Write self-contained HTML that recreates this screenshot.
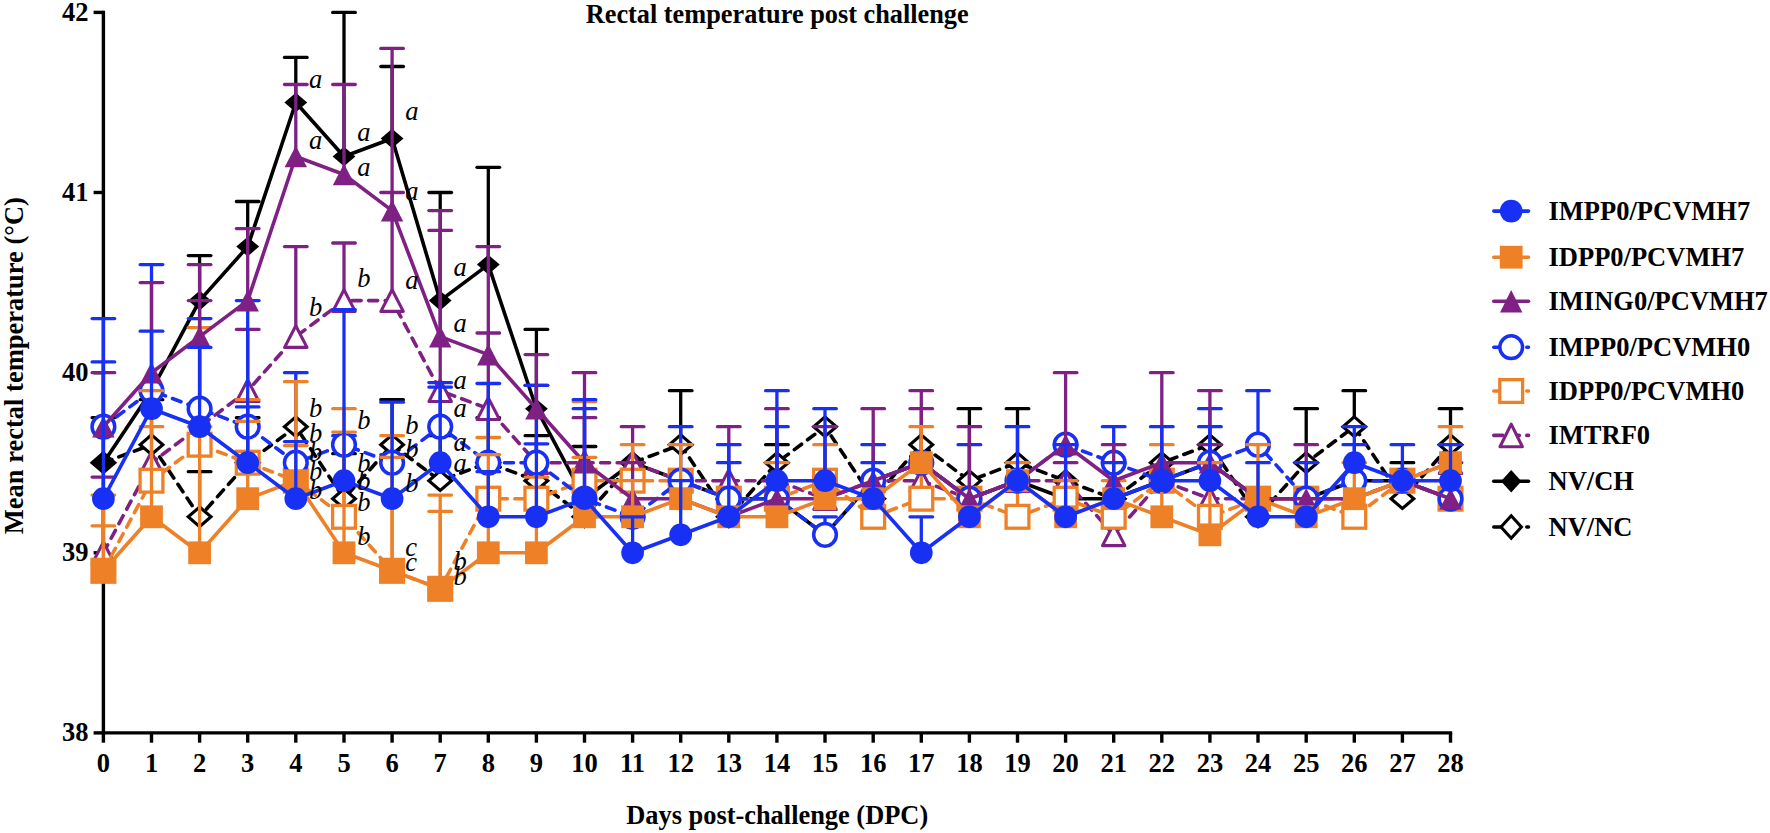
<!DOCTYPE html><html><head><meta charset="utf-8"><title>Rectal temperature post challenge</title>
<style>html,body{margin:0;padding:0;background:#fff}svg{display:block}text{font-family:"Liberation Serif","Times New Roman",serif}.b{font-weight:bold;font-size:26.5px}.i{font-style:italic;font-size:26.5px}</style></head><body>
<svg width="1770" height="833" viewBox="0 0 1770 833">
<rect width="1770" height="833" fill="#fff"/>
<g stroke="#000" stroke-width="3.4" fill="none">
<path d="M103.4 10.7V734.6"/>
<path d="M101.7 732.9H1452.2"/>
<path d="M93.6 732.9H103.4"/>
<path d="M93.6 552.8H103.4"/>
<path d="M93.6 372.7H103.4"/>
<path d="M93.6 192.5H103.4"/>
<path d="M93.6 12.4H103.4"/>
<path d="M103.4 732.9V742.7"/>
<path d="M151.5 732.9V742.7"/>
<path d="M199.6 732.9V742.7"/>
<path d="M247.7 732.9V742.7"/>
<path d="M295.8 732.9V742.7"/>
<path d="M344.0 732.9V742.7"/>
<path d="M392.1 732.9V742.7"/>
<path d="M440.2 732.9V742.7"/>
<path d="M488.3 732.9V742.7"/>
<path d="M536.4 732.9V742.7"/>
<path d="M584.5 732.9V742.7"/>
<path d="M632.6 732.9V742.7"/>
<path d="M680.7 732.9V742.7"/>
<path d="M728.8 732.9V742.7"/>
<path d="M776.9 732.9V742.7"/>
<path d="M825.0 732.9V742.7"/>
<path d="M873.2 732.9V742.7"/>
<path d="M921.3 732.9V742.7"/>
<path d="M969.4 732.9V742.7"/>
<path d="M1017.5 732.9V742.7"/>
<path d="M1065.6 732.9V742.7"/>
<path d="M1113.7 732.9V742.7"/>
<path d="M1161.8 732.9V742.7"/>
<path d="M1209.9 732.9V742.7"/>
<path d="M1258.0 732.9V742.7"/>
<path d="M1306.2 732.9V742.7"/>
<path d="M1354.3 732.9V742.7"/>
<path d="M1402.4 732.9V742.7"/>
<path d="M1450.5 732.9V742.7"/>
</g>
<g><g><path d="M151.5 444.7V399.7" stroke="#000000" stroke-width="3.3" fill="none"/><path d="M140.2 399.7H162.8" stroke="#000000" stroke-width="3.3" stroke-linecap="round" fill="none"/><path d="M199.6 516.8V471.7" stroke="#000000" stroke-width="3.3" fill="none"/><path d="M188.3 471.7H210.9" stroke="#000000" stroke-width="3.3" stroke-linecap="round" fill="none"/><path d="M247.7 462.7V417.7" stroke="#000000" stroke-width="3.3" fill="none"/><path d="M236.4 417.7H259.0" stroke="#000000" stroke-width="3.3" stroke-linecap="round" fill="none"/><path d="M344.0 498.7V453.7" stroke="#000000" stroke-width="3.3" fill="none"/><path d="M332.7 453.7H355.3" stroke="#000000" stroke-width="3.3" stroke-linecap="round" fill="none"/><path d="M392.1 444.7V399.7" stroke="#000000" stroke-width="3.3" fill="none"/><path d="M380.8 399.7H403.4" stroke="#000000" stroke-width="3.3" stroke-linecap="round" fill="none"/><path d="M440.2 480.7V435.7" stroke="#000000" stroke-width="3.3" fill="none"/><path d="M428.9 435.7H451.5" stroke="#000000" stroke-width="3.3" stroke-linecap="round" fill="none"/><path d="M488.3 462.7V417.7" stroke="#000000" stroke-width="3.3" fill="none"/><path d="M477.0 417.7H499.6" stroke="#000000" stroke-width="3.3" stroke-linecap="round" fill="none"/><path d="M536.4 480.7V435.7" stroke="#000000" stroke-width="3.3" fill="none"/><path d="M525.1 435.7H547.7" stroke="#000000" stroke-width="3.3" stroke-linecap="round" fill="none"/><path d="M584.5 516.8V446.5" stroke="#000000" stroke-width="3.3" fill="none"/><path d="M573.2 446.5H595.8" stroke="#000000" stroke-width="3.3" stroke-linecap="round" fill="none"/><path d="M680.7 444.7V390.7" stroke="#000000" stroke-width="3.3" fill="none"/><path d="M669.4 390.7H692.0" stroke="#000000" stroke-width="3.3" stroke-linecap="round" fill="none"/><path d="M776.9 462.7V444.7" stroke="#000000" stroke-width="3.3" fill="none"/><path d="M765.6 444.7H788.2" stroke="#000000" stroke-width="3.3" stroke-linecap="round" fill="none"/><path d="M969.4 480.7V408.7" stroke="#000000" stroke-width="3.3" fill="none"/><path d="M958.1 408.7H980.7" stroke="#000000" stroke-width="3.3" stroke-linecap="round" fill="none"/><path d="M1017.5 462.7V408.7" stroke="#000000" stroke-width="3.3" fill="none"/><path d="M1006.2 408.7H1028.8" stroke="#000000" stroke-width="3.3" stroke-linecap="round" fill="none"/><path d="M1306.2 462.7V408.7" stroke="#000000" stroke-width="3.3" fill="none"/><path d="M1294.9 408.7H1317.5" stroke="#000000" stroke-width="3.3" stroke-linecap="round" fill="none"/><path d="M1354.3 426.7V390.7" stroke="#000000" stroke-width="3.3" fill="none"/><path d="M1343.0 390.7H1365.6" stroke="#000000" stroke-width="3.3" stroke-linecap="round" fill="none"/><path d="M1402.4 498.7V462.7" stroke="#000000" stroke-width="3.3" fill="none"/><path d="M1391.1 462.7H1413.7" stroke="#000000" stroke-width="3.3" stroke-linecap="round" fill="none"/><path d="M1450.5 444.7V408.7" stroke="#000000" stroke-width="3.3" fill="none"/><path d="M1439.2 408.7H1461.8" stroke="#000000" stroke-width="3.3" stroke-linecap="round" fill="none"/><polyline points="103.4,462.7 151.5,444.7 199.6,516.8 247.7,462.7 295.8,426.7 344.0,498.7 392.1,444.7 440.2,480.7 488.3,462.7 536.4,480.7 584.5,516.8 632.6,462.7 680.7,444.7 728.8,516.8 776.9,462.7 825.0,426.7 873.2,498.7 921.3,444.7 969.4,480.7 1017.5,462.7 1065.6,480.7 1113.7,498.7 1161.8,462.7 1209.9,444.7 1258.0,516.8 1306.2,462.7 1354.3,426.7 1402.4,498.7 1450.5,444.7" fill="none" stroke="#000000" stroke-width="3.6" stroke-linejoin="round" stroke-dasharray="9 7.5" stroke-linecap="round"/><path d="M1493.8 527.0H1528.5" stroke="#000000" stroke-width="3.6" stroke-linecap="round" fill="none" stroke-dasharray="9 7.5"/></g><path d="M103.4 452.9L114.8 462.7L103.4 472.5L92.0 462.7Z" fill="#fff" stroke="#000000" stroke-width="3.1"/><path d="M151.5 434.9L162.9 444.7L151.5 454.5L140.1 444.7Z" fill="#fff" stroke="#000000" stroke-width="3.1"/><path d="M199.6 507.0L211.0 516.8L199.6 526.6L188.2 516.8Z" fill="#fff" stroke="#000000" stroke-width="3.1"/><path d="M247.7 452.9L259.1 462.7L247.7 472.5L236.3 462.7Z" fill="#fff" stroke="#000000" stroke-width="3.1"/><path d="M295.8 416.9L307.2 426.7L295.8 436.5L284.4 426.7Z" fill="#fff" stroke="#000000" stroke-width="3.1"/><path d="M344.0 488.9L355.4 498.7L344.0 508.5L332.6 498.7Z" fill="#fff" stroke="#000000" stroke-width="3.1"/><path d="M392.1 434.9L403.5 444.7L392.1 454.5L380.7 444.7Z" fill="#fff" stroke="#000000" stroke-width="3.1"/><path d="M440.2 470.9L451.6 480.7L440.2 490.5L428.8 480.7Z" fill="#fff" stroke="#000000" stroke-width="3.1"/><path d="M488.3 452.9L499.7 462.7L488.3 472.5L476.9 462.7Z" fill="#fff" stroke="#000000" stroke-width="3.1"/><path d="M536.4 470.9L547.8 480.7L536.4 490.5L525.0 480.7Z" fill="#fff" stroke="#000000" stroke-width="3.1"/><path d="M584.5 507.0L595.9 516.8L584.5 526.6L573.1 516.8Z" fill="#fff" stroke="#000000" stroke-width="3.1"/><path d="M632.6 452.9L644.0 462.7L632.6 472.5L621.2 462.7Z" fill="#fff" stroke="#000000" stroke-width="3.1"/><path d="M680.7 434.9L692.1 444.7L680.7 454.5L669.3 444.7Z" fill="#fff" stroke="#000000" stroke-width="3.1"/><path d="M728.8 507.0L740.2 516.8L728.8 526.6L717.4 516.8Z" fill="#fff" stroke="#000000" stroke-width="3.1"/><path d="M776.9 452.9L788.3 462.7L776.9 472.5L765.5 462.7Z" fill="#fff" stroke="#000000" stroke-width="3.1"/><path d="M825.0 416.9L836.4 426.7L825.0 436.5L813.6 426.7Z" fill="#fff" stroke="#000000" stroke-width="3.1"/><path d="M873.2 488.9L884.6 498.7L873.2 508.5L861.8 498.7Z" fill="#fff" stroke="#000000" stroke-width="3.1"/><path d="M921.3 434.9L932.7 444.7L921.3 454.5L909.9 444.7Z" fill="#fff" stroke="#000000" stroke-width="3.1"/><path d="M969.4 470.9L980.8 480.7L969.4 490.5L958.0 480.7Z" fill="#fff" stroke="#000000" stroke-width="3.1"/><path d="M1017.5 452.9L1028.9 462.7L1017.5 472.5L1006.1 462.7Z" fill="#fff" stroke="#000000" stroke-width="3.1"/><path d="M1065.6 470.9L1077.0 480.7L1065.6 490.5L1054.2 480.7Z" fill="#fff" stroke="#000000" stroke-width="3.1"/><path d="M1113.7 488.9L1125.1 498.7L1113.7 508.5L1102.3 498.7Z" fill="#fff" stroke="#000000" stroke-width="3.1"/><path d="M1161.8 452.9L1173.2 462.7L1161.8 472.5L1150.4 462.7Z" fill="#fff" stroke="#000000" stroke-width="3.1"/><path d="M1209.9 434.9L1221.3 444.7L1209.9 454.5L1198.5 444.7Z" fill="#fff" stroke="#000000" stroke-width="3.1"/><path d="M1258.0 507.0L1269.4 516.8L1258.0 526.6L1246.6 516.8Z" fill="#fff" stroke="#000000" stroke-width="3.1"/><path d="M1306.2 452.9L1317.6 462.7L1306.2 472.5L1294.8 462.7Z" fill="#fff" stroke="#000000" stroke-width="3.1"/><path d="M1354.3 416.9L1365.7 426.7L1354.3 436.5L1342.9 426.7Z" fill="#fff" stroke="#000000" stroke-width="3.1"/><path d="M1402.4 488.9L1413.8 498.7L1402.4 508.5L1391.0 498.7Z" fill="#fff" stroke="#000000" stroke-width="3.1"/><path d="M1450.5 434.9L1461.9 444.7L1450.5 454.5L1439.1 444.7Z" fill="#fff" stroke="#000000" stroke-width="3.1"/><path d="M1511.2 515.7L1521.4 527.0L1511.2 538.3L1501.0 527.0Z" fill="#fff" stroke="#000000" stroke-width="3.1"/></g>
<g><g><path d="M103.4 462.7V417.7" stroke="#000000" stroke-width="3.3" fill="none"/><path d="M92.1 417.7H114.7" stroke="#000000" stroke-width="3.3" stroke-linecap="round" fill="none"/><path d="M199.6 300.6V255.6" stroke="#000000" stroke-width="3.3" fill="none"/><path d="M188.3 255.6H210.9" stroke="#000000" stroke-width="3.3" stroke-linecap="round" fill="none"/><path d="M247.7 246.6V201.5" stroke="#000000" stroke-width="3.3" fill="none"/><path d="M236.4 201.5H259.0" stroke="#000000" stroke-width="3.3" stroke-linecap="round" fill="none"/><path d="M295.8 102.5V57.4" stroke="#000000" stroke-width="3.3" fill="none"/><path d="M284.5 57.4H307.1" stroke="#000000" stroke-width="3.3" stroke-linecap="round" fill="none"/><path d="M344.0 156.5V12.4" stroke="#000000" stroke-width="3.3" fill="none"/><path d="M332.7 12.4H355.3" stroke="#000000" stroke-width="3.3" stroke-linecap="round" fill="none"/><path d="M392.1 138.5V66.5" stroke="#000000" stroke-width="3.3" fill="none"/><path d="M380.8 66.5H403.4" stroke="#000000" stroke-width="3.3" stroke-linecap="round" fill="none"/><path d="M440.2 300.6V192.5" stroke="#000000" stroke-width="3.3" fill="none"/><path d="M428.9 192.5H451.5" stroke="#000000" stroke-width="3.3" stroke-linecap="round" fill="none"/><path d="M488.3 264.6V167.3" stroke="#000000" stroke-width="3.3" fill="none"/><path d="M477.0 167.3H499.6" stroke="#000000" stroke-width="3.3" stroke-linecap="round" fill="none"/><path d="M536.4 408.7V329.4" stroke="#000000" stroke-width="3.3" fill="none"/><path d="M525.1 329.4H547.7" stroke="#000000" stroke-width="3.3" stroke-linecap="round" fill="none"/><polyline points="103.4,462.7 151.5,390.7 199.6,300.6 247.7,246.6 295.8,102.5 344.0,156.5 392.1,138.5 440.2,300.6 488.3,264.6 536.4,408.7 584.5,498.7 632.6,462.7 680.7,480.7 728.8,498.7 776.9,498.7 825.0,534.8 873.2,480.7 921.3,462.7 969.4,498.7 1017.5,480.7 1065.6,498.7 1113.7,498.7 1161.8,480.7 1209.9,462.7 1258.0,498.7 1306.2,498.7 1354.3,480.7 1402.4,480.7 1450.5,498.7" fill="none" stroke="#000000" stroke-width="3.6" stroke-linejoin="round"/><path d="M1493.8 481.2H1528.5" stroke="#000000" stroke-width="3.6" stroke-linecap="round" fill="none"/></g><path d="M103.4 452.9L114.8 462.7L103.4 472.5L92.0 462.7Z" fill="#000000"/><path d="M151.5 380.9L162.9 390.7L151.5 400.5L140.1 390.7Z" fill="#000000"/><path d="M199.6 290.8L211.0 300.6L199.6 310.4L188.2 300.6Z" fill="#000000"/><path d="M247.7 236.8L259.1 246.6L247.7 256.4L236.3 246.6Z" fill="#000000"/><path d="M295.8 92.7L307.2 102.5L295.8 112.3L284.4 102.5Z" fill="#000000"/><path d="M344.0 146.7L355.4 156.5L344.0 166.3L332.6 156.5Z" fill="#000000"/><path d="M392.1 128.7L403.5 138.5L392.1 148.3L380.7 138.5Z" fill="#000000"/><path d="M440.2 290.8L451.6 300.6L440.2 310.4L428.8 300.6Z" fill="#000000"/><path d="M488.3 254.8L499.7 264.6L488.3 274.4L476.9 264.6Z" fill="#000000"/><path d="M536.4 398.9L547.8 408.7L536.4 418.5L525.0 408.7Z" fill="#000000"/><path d="M584.5 488.9L595.9 498.7L584.5 508.5L573.1 498.7Z" fill="#000000"/><path d="M632.6 452.9L644.0 462.7L632.6 472.5L621.2 462.7Z" fill="#000000"/><path d="M680.7 470.9L692.1 480.7L680.7 490.5L669.3 480.7Z" fill="#000000"/><path d="M728.8 488.9L740.2 498.7L728.8 508.5L717.4 498.7Z" fill="#000000"/><path d="M776.9 488.9L788.3 498.7L776.9 508.5L765.5 498.7Z" fill="#000000"/><path d="M825.0 525.0L836.4 534.8L825.0 544.6L813.6 534.8Z" fill="#000000"/><path d="M873.2 470.9L884.6 480.7L873.2 490.5L861.8 480.7Z" fill="#000000"/><path d="M921.3 452.9L932.7 462.7L921.3 472.5L909.9 462.7Z" fill="#000000"/><path d="M969.4 488.9L980.8 498.7L969.4 508.5L958.0 498.7Z" fill="#000000"/><path d="M1017.5 470.9L1028.9 480.7L1017.5 490.5L1006.1 480.7Z" fill="#000000"/><path d="M1065.6 488.9L1077.0 498.7L1065.6 508.5L1054.2 498.7Z" fill="#000000"/><path d="M1113.7 488.9L1125.1 498.7L1113.7 508.5L1102.3 498.7Z" fill="#000000"/><path d="M1161.8 470.9L1173.2 480.7L1161.8 490.5L1150.4 480.7Z" fill="#000000"/><path d="M1209.9 452.9L1221.3 462.7L1209.9 472.5L1198.5 462.7Z" fill="#000000"/><path d="M1258.0 488.9L1269.4 498.7L1258.0 508.5L1246.6 498.7Z" fill="#000000"/><path d="M1306.2 488.9L1317.6 498.7L1306.2 508.5L1294.8 498.7Z" fill="#000000"/><path d="M1354.3 470.9L1365.7 480.7L1354.3 490.5L1342.9 480.7Z" fill="#000000"/><path d="M1402.4 470.9L1413.8 480.7L1402.4 490.5L1391.0 480.7Z" fill="#000000"/><path d="M1450.5 488.9L1461.9 498.7L1450.5 508.5L1439.1 498.7Z" fill="#000000"/><path d="M1511.2 469.9L1521.4 481.2L1511.2 492.5L1501.0 481.2Z" fill="#000000"/></g>
<g><g><path d="M103.4 552.8V477.1" stroke="#7f2184" stroke-width="3.3" fill="none"/><path d="M92.1 477.1H114.7" stroke="#7f2184" stroke-width="3.3" stroke-linecap="round" fill="none"/><path d="M199.6 426.7V300.6" stroke="#7f2184" stroke-width="3.3" fill="none"/><path d="M188.3 300.6H210.9" stroke="#7f2184" stroke-width="3.3" stroke-linecap="round" fill="none"/><path d="M247.7 390.7V329.4" stroke="#7f2184" stroke-width="3.3" fill="none"/><path d="M236.4 329.4H259.0" stroke="#7f2184" stroke-width="3.3" stroke-linecap="round" fill="none"/><path d="M295.8 336.6V246.6" stroke="#7f2184" stroke-width="3.3" fill="none"/><path d="M284.5 246.6H307.1" stroke="#7f2184" stroke-width="3.3" stroke-linecap="round" fill="none"/><path d="M344.0 300.6V243.0" stroke="#7f2184" stroke-width="3.3" fill="none"/><path d="M332.7 243.0H355.3" stroke="#7f2184" stroke-width="3.3" stroke-linecap="round" fill="none"/><path d="M392.1 300.6V192.5" stroke="#7f2184" stroke-width="3.3" fill="none"/><path d="M380.8 192.5H403.4" stroke="#7f2184" stroke-width="3.3" stroke-linecap="round" fill="none"/><path d="M440.2 390.7V230.4" stroke="#7f2184" stroke-width="3.3" fill="none"/><path d="M428.9 230.4H451.5" stroke="#7f2184" stroke-width="3.3" stroke-linecap="round" fill="none"/><path d="M488.3 408.7V333.0" stroke="#7f2184" stroke-width="3.3" fill="none"/><path d="M477.0 333.0H499.6" stroke="#7f2184" stroke-width="3.3" stroke-linecap="round" fill="none"/><path d="M536.4 462.7V385.3" stroke="#7f2184" stroke-width="3.3" fill="none"/><path d="M525.1 385.3H547.7" stroke="#7f2184" stroke-width="3.3" stroke-linecap="round" fill="none"/><path d="M584.5 462.7V417.7" stroke="#7f2184" stroke-width="3.3" fill="none"/><path d="M573.2 417.7H595.8" stroke="#7f2184" stroke-width="3.3" stroke-linecap="round" fill="none"/><path d="M632.6 462.7V426.7" stroke="#7f2184" stroke-width="3.3" fill="none"/><path d="M621.3 426.7H643.9" stroke="#7f2184" stroke-width="3.3" stroke-linecap="round" fill="none"/><path d="M728.8 480.7V426.7" stroke="#7f2184" stroke-width="3.3" fill="none"/><path d="M717.5 426.7H740.1" stroke="#7f2184" stroke-width="3.3" stroke-linecap="round" fill="none"/><path d="M921.3 480.7V408.7" stroke="#7f2184" stroke-width="3.3" fill="none"/><path d="M910.0 408.7H932.6" stroke="#7f2184" stroke-width="3.3" stroke-linecap="round" fill="none"/><path d="M1065.6 480.7V462.7" stroke="#7f2184" stroke-width="3.3" fill="none"/><path d="M1054.3 462.7H1076.9" stroke="#7f2184" stroke-width="3.3" stroke-linecap="round" fill="none"/><path d="M1209.9 498.7V444.7" stroke="#7f2184" stroke-width="3.3" fill="none"/><path d="M1198.6 444.7H1221.2" stroke="#7f2184" stroke-width="3.3" stroke-linecap="round" fill="none"/><path d="M1306.2 498.7V444.7" stroke="#7f2184" stroke-width="3.3" fill="none"/><path d="M1294.9 444.7H1317.5" stroke="#7f2184" stroke-width="3.3" stroke-linecap="round" fill="none"/><polyline points="103.4,552.8 151.5,462.7 199.6,426.7 247.7,390.7 295.8,336.6 344.0,300.6 392.1,300.6 440.2,390.7 488.3,408.7 536.4,462.7 584.5,462.7 632.6,462.7 680.7,480.7 728.8,480.7 776.9,480.7 825.0,498.7 873.2,480.7 921.3,480.7 969.4,498.7 1017.5,480.7 1065.6,480.7 1113.7,534.8 1161.8,480.7 1209.9,498.7 1258.0,498.7 1306.2,498.7 1354.3,498.7 1402.4,480.7 1450.5,462.7" fill="none" stroke="#7f2184" stroke-width="3.6" stroke-linejoin="round" stroke-dasharray="9 7.5" stroke-linecap="round"/><path d="M1493.8 435.4H1528.5" stroke="#7f2184" stroke-width="3.6" stroke-linecap="round" fill="none" stroke-dasharray="9 7.5"/></g><path d="M103.4 542.0L114.6 563.6L92.2 563.6Z" fill="#fff" stroke="#7f2184" stroke-width="3.1" stroke-linejoin="round"/><path d="M151.5 451.9L162.7 473.5L140.3 473.5Z" fill="#fff" stroke="#7f2184" stroke-width="3.1" stroke-linejoin="round"/><path d="M199.6 415.9L210.8 437.5L188.4 437.5Z" fill="#fff" stroke="#7f2184" stroke-width="3.1" stroke-linejoin="round"/><path d="M247.7 379.9L258.9 401.5L236.5 401.5Z" fill="#fff" stroke="#7f2184" stroke-width="3.1" stroke-linejoin="round"/><path d="M295.8 325.8L307.0 347.4L284.6 347.4Z" fill="#fff" stroke="#7f2184" stroke-width="3.1" stroke-linejoin="round"/><path d="M344.0 289.8L355.2 311.4L332.8 311.4Z" fill="#fff" stroke="#7f2184" stroke-width="3.1" stroke-linejoin="round"/><path d="M392.1 289.8L403.3 311.4L380.9 311.4Z" fill="#fff" stroke="#7f2184" stroke-width="3.1" stroke-linejoin="round"/><path d="M440.2 379.9L451.4 401.5L429.0 401.5Z" fill="#fff" stroke="#7f2184" stroke-width="3.1" stroke-linejoin="round"/><path d="M488.3 397.9L499.5 419.5L477.1 419.5Z" fill="#fff" stroke="#7f2184" stroke-width="3.1" stroke-linejoin="round"/><path d="M536.4 451.9L547.6 473.5L525.2 473.5Z" fill="#fff" stroke="#7f2184" stroke-width="3.1" stroke-linejoin="round"/><path d="M584.5 451.9L595.7 473.5L573.3 473.5Z" fill="#fff" stroke="#7f2184" stroke-width="3.1" stroke-linejoin="round"/><path d="M632.6 451.9L643.8 473.5L621.4 473.5Z" fill="#fff" stroke="#7f2184" stroke-width="3.1" stroke-linejoin="round"/><path d="M680.7 469.9L691.9 491.5L669.5 491.5Z" fill="#fff" stroke="#7f2184" stroke-width="3.1" stroke-linejoin="round"/><path d="M728.8 469.9L740.0 491.5L717.6 491.5Z" fill="#fff" stroke="#7f2184" stroke-width="3.1" stroke-linejoin="round"/><path d="M776.9 469.9L788.1 491.5L765.7 491.5Z" fill="#fff" stroke="#7f2184" stroke-width="3.1" stroke-linejoin="round"/><path d="M825.0 487.9L836.2 509.5L813.8 509.5Z" fill="#fff" stroke="#7f2184" stroke-width="3.1" stroke-linejoin="round"/><path d="M873.2 469.9L884.4 491.5L862.0 491.5Z" fill="#fff" stroke="#7f2184" stroke-width="3.1" stroke-linejoin="round"/><path d="M921.3 469.9L932.5 491.5L910.1 491.5Z" fill="#fff" stroke="#7f2184" stroke-width="3.1" stroke-linejoin="round"/><path d="M969.4 487.9L980.6 509.5L958.2 509.5Z" fill="#fff" stroke="#7f2184" stroke-width="3.1" stroke-linejoin="round"/><path d="M1017.5 469.9L1028.7 491.5L1006.3 491.5Z" fill="#fff" stroke="#7f2184" stroke-width="3.1" stroke-linejoin="round"/><path d="M1065.6 469.9L1076.8 491.5L1054.4 491.5Z" fill="#fff" stroke="#7f2184" stroke-width="3.1" stroke-linejoin="round"/><path d="M1113.7 524.0L1124.9 545.6L1102.5 545.6Z" fill="#fff" stroke="#7f2184" stroke-width="3.1" stroke-linejoin="round"/><path d="M1161.8 469.9L1173.0 491.5L1150.6 491.5Z" fill="#fff" stroke="#7f2184" stroke-width="3.1" stroke-linejoin="round"/><path d="M1209.9 487.9L1221.1 509.5L1198.7 509.5Z" fill="#fff" stroke="#7f2184" stroke-width="3.1" stroke-linejoin="round"/><path d="M1258.0 487.9L1269.2 509.5L1246.8 509.5Z" fill="#fff" stroke="#7f2184" stroke-width="3.1" stroke-linejoin="round"/><path d="M1306.2 487.9L1317.4 509.5L1295.0 509.5Z" fill="#fff" stroke="#7f2184" stroke-width="3.1" stroke-linejoin="round"/><path d="M1354.3 487.9L1365.5 509.5L1343.1 509.5Z" fill="#fff" stroke="#7f2184" stroke-width="3.1" stroke-linejoin="round"/><path d="M1402.4 469.9L1413.6 491.5L1391.2 491.5Z" fill="#fff" stroke="#7f2184" stroke-width="3.1" stroke-linejoin="round"/><path d="M1450.5 451.9L1461.7 473.5L1439.3 473.5Z" fill="#fff" stroke="#7f2184" stroke-width="3.1" stroke-linejoin="round"/><path d="M1511.2 424.1L1522.4 446.7L1500.0 446.7Z" fill="#fff" stroke="#7f2184" stroke-width="3.1" stroke-linejoin="round"/></g>
<g><g><path d="M103.4 570.8V495.1" stroke="#ee8127" stroke-width="3.3" fill="none"/><path d="M92.1 495.1H114.7" stroke="#ee8127" stroke-width="3.3" stroke-linecap="round" fill="none"/><path d="M151.5 480.7V426.7" stroke="#ee8127" stroke-width="3.3" fill="none"/><path d="M140.2 426.7H162.8" stroke="#ee8127" stroke-width="3.3" stroke-linecap="round" fill="none"/><path d="M199.6 444.7V327.6" stroke="#ee8127" stroke-width="3.3" fill="none"/><path d="M188.3 327.6H210.9" stroke="#ee8127" stroke-width="3.3" stroke-linecap="round" fill="none"/><path d="M247.7 462.7V399.7" stroke="#ee8127" stroke-width="3.3" fill="none"/><path d="M236.4 399.7H259.0" stroke="#ee8127" stroke-width="3.3" stroke-linecap="round" fill="none"/><path d="M295.8 480.7V445.6" stroke="#ee8127" stroke-width="3.3" fill="none"/><path d="M284.5 445.6H307.1" stroke="#ee8127" stroke-width="3.3" stroke-linecap="round" fill="none"/><path d="M344.0 516.8V408.7" stroke="#ee8127" stroke-width="3.3" fill="none"/><path d="M332.7 408.7H355.3" stroke="#ee8127" stroke-width="3.3" stroke-linecap="round" fill="none"/><path d="M392.1 570.8V435.7" stroke="#ee8127" stroke-width="3.3" fill="none"/><path d="M380.8 435.7H403.4" stroke="#ee8127" stroke-width="3.3" stroke-linecap="round" fill="none"/><path d="M440.2 588.8V511.4" stroke="#ee8127" stroke-width="3.3" fill="none"/><path d="M428.9 511.4H451.5" stroke="#ee8127" stroke-width="3.3" stroke-linecap="round" fill="none"/><path d="M488.3 498.7V437.5" stroke="#ee8127" stroke-width="3.3" fill="none"/><path d="M477.0 437.5H499.6" stroke="#ee8127" stroke-width="3.3" stroke-linecap="round" fill="none"/><path d="M584.5 480.7V401.5" stroke="#ee8127" stroke-width="3.3" fill="none"/><path d="M573.2 401.5H595.8" stroke="#ee8127" stroke-width="3.3" stroke-linecap="round" fill="none"/><path d="M632.6 480.7V444.7" stroke="#ee8127" stroke-width="3.3" fill="none"/><path d="M621.3 444.7H643.9" stroke="#ee8127" stroke-width="3.3" stroke-linecap="round" fill="none"/><path d="M776.9 498.7V462.7" stroke="#ee8127" stroke-width="3.3" fill="none"/><path d="M765.6 462.7H788.2" stroke="#ee8127" stroke-width="3.3" stroke-linecap="round" fill="none"/><path d="M825.0 480.7V444.7" stroke="#ee8127" stroke-width="3.3" fill="none"/><path d="M813.8 444.7H836.3" stroke="#ee8127" stroke-width="3.3" stroke-linecap="round" fill="none"/><path d="M921.3 498.7V462.7" stroke="#ee8127" stroke-width="3.3" fill="none"/><path d="M910.0 462.7H932.6" stroke="#ee8127" stroke-width="3.3" stroke-linecap="round" fill="none"/><path d="M1017.5 516.8V462.7" stroke="#ee8127" stroke-width="3.3" fill="none"/><path d="M1006.2 462.7H1028.8" stroke="#ee8127" stroke-width="3.3" stroke-linecap="round" fill="none"/><path d="M1113.7 516.8V480.7" stroke="#ee8127" stroke-width="3.3" fill="none"/><path d="M1102.4 480.7H1125.0" stroke="#ee8127" stroke-width="3.3" stroke-linecap="round" fill="none"/><path d="M1161.8 480.7V444.7" stroke="#ee8127" stroke-width="3.3" fill="none"/><path d="M1150.5 444.7H1173.1" stroke="#ee8127" stroke-width="3.3" stroke-linecap="round" fill="none"/><polyline points="103.4,570.8 151.5,480.7 199.6,444.7 247.7,462.7 295.8,480.7 344.0,516.8 392.1,570.8 440.2,588.8 488.3,498.7 536.4,498.7 584.5,480.7 632.6,480.7 680.7,480.7 728.8,498.7 776.9,498.7 825.0,480.7 873.2,516.8 921.3,498.7 969.4,498.7 1017.5,516.8 1065.6,498.7 1113.7,516.8 1161.8,480.7 1209.9,516.8 1258.0,498.7 1306.2,498.7 1354.3,516.8 1402.4,480.7 1450.5,498.7" fill="none" stroke="#ee8127" stroke-width="3.6" stroke-linejoin="round" stroke-dasharray="9 7.5" stroke-linecap="round"/><path d="M1493.8 391.0H1528.5" stroke="#ee8127" stroke-width="3.6" stroke-linecap="round" fill="none" stroke-dasharray="9 7.5"/></g><rect x="92.0" y="559.4" width="22.8" height="22.8" fill="#fff" stroke="#ee8127" stroke-width="3.3"/><rect x="140.1" y="469.3" width="22.8" height="22.8" fill="#fff" stroke="#ee8127" stroke-width="3.3"/><rect x="188.2" y="433.3" width="22.8" height="22.8" fill="#fff" stroke="#ee8127" stroke-width="3.3"/><rect x="236.3" y="451.3" width="22.8" height="22.8" fill="#fff" stroke="#ee8127" stroke-width="3.3"/><rect x="284.4" y="469.3" width="22.8" height="22.8" fill="#fff" stroke="#ee8127" stroke-width="3.3"/><rect x="332.6" y="505.4" width="22.8" height="22.8" fill="#fff" stroke="#ee8127" stroke-width="3.3"/><rect x="380.7" y="559.4" width="22.8" height="22.8" fill="#fff" stroke="#ee8127" stroke-width="3.3"/><rect x="428.8" y="577.4" width="22.8" height="22.8" fill="#fff" stroke="#ee8127" stroke-width="3.3"/><rect x="476.9" y="487.3" width="22.8" height="22.8" fill="#fff" stroke="#ee8127" stroke-width="3.3"/><rect x="525.0" y="487.3" width="22.8" height="22.8" fill="#fff" stroke="#ee8127" stroke-width="3.3"/><rect x="573.1" y="469.3" width="22.8" height="22.8" fill="#fff" stroke="#ee8127" stroke-width="3.3"/><rect x="621.2" y="469.3" width="22.8" height="22.8" fill="#fff" stroke="#ee8127" stroke-width="3.3"/><rect x="669.3" y="469.3" width="22.8" height="22.8" fill="#fff" stroke="#ee8127" stroke-width="3.3"/><rect x="717.4" y="487.3" width="22.8" height="22.8" fill="#fff" stroke="#ee8127" stroke-width="3.3"/><rect x="765.5" y="487.3" width="22.8" height="22.8" fill="#fff" stroke="#ee8127" stroke-width="3.3"/><rect x="813.6" y="469.3" width="22.8" height="22.8" fill="#fff" stroke="#ee8127" stroke-width="3.3"/><rect x="861.8" y="505.4" width="22.8" height="22.8" fill="#fff" stroke="#ee8127" stroke-width="3.3"/><rect x="909.9" y="487.3" width="22.8" height="22.8" fill="#fff" stroke="#ee8127" stroke-width="3.3"/><rect x="958.0" y="487.3" width="22.8" height="22.8" fill="#fff" stroke="#ee8127" stroke-width="3.3"/><rect x="1006.1" y="505.4" width="22.8" height="22.8" fill="#fff" stroke="#ee8127" stroke-width="3.3"/><rect x="1054.2" y="487.3" width="22.8" height="22.8" fill="#fff" stroke="#ee8127" stroke-width="3.3"/><rect x="1102.3" y="505.4" width="22.8" height="22.8" fill="#fff" stroke="#ee8127" stroke-width="3.3"/><rect x="1150.4" y="469.3" width="22.8" height="22.8" fill="#fff" stroke="#ee8127" stroke-width="3.3"/><rect x="1198.5" y="505.4" width="22.8" height="22.8" fill="#fff" stroke="#ee8127" stroke-width="3.3"/><rect x="1246.6" y="487.3" width="22.8" height="22.8" fill="#fff" stroke="#ee8127" stroke-width="3.3"/><rect x="1294.8" y="487.3" width="22.8" height="22.8" fill="#fff" stroke="#ee8127" stroke-width="3.3"/><rect x="1342.9" y="505.4" width="22.8" height="22.8" fill="#fff" stroke="#ee8127" stroke-width="3.3"/><rect x="1391.0" y="469.3" width="22.8" height="22.8" fill="#fff" stroke="#ee8127" stroke-width="3.3"/><rect x="1439.1" y="487.3" width="22.8" height="22.8" fill="#fff" stroke="#ee8127" stroke-width="3.3"/><rect x="1499.8" y="379.6" width="22.8" height="22.8" fill="#fff" stroke="#ee8127" stroke-width="3.3"/></g>
<g><g><path d="M103.4 426.7V318.6" stroke="#1730f3" stroke-width="3.3" fill="none"/><path d="M92.1 318.6H114.7" stroke="#1730f3" stroke-width="3.3" stroke-linecap="round" fill="none"/><path d="M151.5 390.7V264.6" stroke="#1730f3" stroke-width="3.3" fill="none"/><path d="M140.2 264.6H162.8" stroke="#1730f3" stroke-width="3.3" stroke-linecap="round" fill="none"/><path d="M199.6 408.7V318.6" stroke="#1730f3" stroke-width="3.3" fill="none"/><path d="M188.3 318.6H210.9" stroke="#1730f3" stroke-width="3.3" stroke-linecap="round" fill="none"/><path d="M247.7 426.7V300.6" stroke="#1730f3" stroke-width="3.3" fill="none"/><path d="M236.4 300.6H259.0" stroke="#1730f3" stroke-width="3.3" stroke-linecap="round" fill="none"/><path d="M295.8 462.7V372.7" stroke="#1730f3" stroke-width="3.3" fill="none"/><path d="M284.5 372.7H307.1" stroke="#1730f3" stroke-width="3.3" stroke-linecap="round" fill="none"/><path d="M344.0 444.7V435.7" stroke="#1730f3" stroke-width="3.3" fill="none"/><path d="M332.7 435.7H355.3" stroke="#1730f3" stroke-width="3.3" stroke-linecap="round" fill="none"/><path d="M392.1 462.7V454.6" stroke="#1730f3" stroke-width="3.3" fill="none"/><path d="M380.8 454.6H403.4" stroke="#1730f3" stroke-width="3.3" stroke-linecap="round" fill="none"/><path d="M440.2 426.7V382.6" stroke="#1730f3" stroke-width="3.3" fill="none"/><path d="M428.9 382.6H451.5" stroke="#1730f3" stroke-width="3.3" stroke-linecap="round" fill="none"/><path d="M488.3 462.7V383.5" stroke="#1730f3" stroke-width="3.3" fill="none"/><path d="M477.0 383.5H499.6" stroke="#1730f3" stroke-width="3.3" stroke-linecap="round" fill="none"/><path d="M536.4 462.7V385.3" stroke="#1730f3" stroke-width="3.3" fill="none"/><path d="M525.1 385.3H547.7" stroke="#1730f3" stroke-width="3.3" stroke-linecap="round" fill="none"/><path d="M584.5 498.7V408.7" stroke="#1730f3" stroke-width="3.3" fill="none"/><path d="M573.2 408.7H595.8" stroke="#1730f3" stroke-width="3.3" stroke-linecap="round" fill="none"/><path d="M680.7 480.7V426.7" stroke="#1730f3" stroke-width="3.3" fill="none"/><path d="M669.4 426.7H692.0" stroke="#1730f3" stroke-width="3.3" stroke-linecap="round" fill="none"/><path d="M728.8 498.7V444.7" stroke="#1730f3" stroke-width="3.3" fill="none"/><path d="M717.5 444.7H740.1" stroke="#1730f3" stroke-width="3.3" stroke-linecap="round" fill="none"/><path d="M776.9 498.7V426.7" stroke="#1730f3" stroke-width="3.3" fill="none"/><path d="M765.6 426.7H788.2" stroke="#1730f3" stroke-width="3.3" stroke-linecap="round" fill="none"/><path d="M825.0 534.8V516.8" stroke="#1730f3" stroke-width="3.3" fill="none"/><path d="M813.8 516.8H836.3" stroke="#1730f3" stroke-width="3.3" stroke-linecap="round" fill="none"/><path d="M873.2 480.7V444.7" stroke="#1730f3" stroke-width="3.3" fill="none"/><path d="M861.9 444.7H884.5" stroke="#1730f3" stroke-width="3.3" stroke-linecap="round" fill="none"/><path d="M969.4 498.7V444.7" stroke="#1730f3" stroke-width="3.3" fill="none"/><path d="M958.1 444.7H980.7" stroke="#1730f3" stroke-width="3.3" stroke-linecap="round" fill="none"/><path d="M1113.7 462.7V426.7" stroke="#1730f3" stroke-width="3.3" fill="none"/><path d="M1102.4 426.7H1125.0" stroke="#1730f3" stroke-width="3.3" stroke-linecap="round" fill="none"/><path d="M1209.9 462.7V408.7" stroke="#1730f3" stroke-width="3.3" fill="none"/><path d="M1198.6 408.7H1221.2" stroke="#1730f3" stroke-width="3.3" stroke-linecap="round" fill="none"/><path d="M1258.0 444.7V390.7" stroke="#1730f3" stroke-width="3.3" fill="none"/><path d="M1246.7 390.7H1269.3" stroke="#1730f3" stroke-width="3.3" stroke-linecap="round" fill="none"/><path d="M1306.2 498.7V462.7" stroke="#1730f3" stroke-width="3.3" fill="none"/><path d="M1294.9 462.7H1317.5" stroke="#1730f3" stroke-width="3.3" stroke-linecap="round" fill="none"/><path d="M1354.3 480.7V444.7" stroke="#1730f3" stroke-width="3.3" fill="none"/><path d="M1343.0 444.7H1365.6" stroke="#1730f3" stroke-width="3.3" stroke-linecap="round" fill="none"/><polyline points="103.4,426.7 151.5,390.7 199.6,408.7 247.7,426.7 295.8,462.7 344.0,444.7 392.1,462.7 440.2,426.7 488.3,462.7 536.4,462.7 584.5,498.7 632.6,516.8 680.7,480.7 728.8,498.7 776.9,498.7 825.0,534.8 873.2,480.7 921.3,462.7 969.4,498.7 1017.5,480.7 1065.6,444.7 1113.7,462.7 1161.8,480.7 1209.9,462.7 1258.0,444.7 1306.2,498.7 1354.3,480.7 1402.4,480.7 1450.5,498.7" fill="none" stroke="#1730f3" stroke-width="3.6" stroke-linejoin="round" stroke-dasharray="9 7.5" stroke-linecap="round"/><path d="M1493.8 347.2H1528.5" stroke="#1730f3" stroke-width="3.6" stroke-linecap="round" fill="none" stroke-dasharray="9 7.5"/></g><circle cx="103.4" cy="426.7" r="11.35" fill="#fff" stroke="#1730f3" stroke-width="3.5"/><circle cx="151.5" cy="390.7" r="11.35" fill="#fff" stroke="#1730f3" stroke-width="3.5"/><circle cx="199.6" cy="408.7" r="11.35" fill="#fff" stroke="#1730f3" stroke-width="3.5"/><circle cx="247.7" cy="426.7" r="11.35" fill="#fff" stroke="#1730f3" stroke-width="3.5"/><circle cx="295.8" cy="462.7" r="11.35" fill="#fff" stroke="#1730f3" stroke-width="3.5"/><circle cx="344.0" cy="444.7" r="11.35" fill="#fff" stroke="#1730f3" stroke-width="3.5"/><circle cx="392.1" cy="462.7" r="11.35" fill="#fff" stroke="#1730f3" stroke-width="3.5"/><circle cx="440.2" cy="426.7" r="11.35" fill="#fff" stroke="#1730f3" stroke-width="3.5"/><circle cx="488.3" cy="462.7" r="11.35" fill="#fff" stroke="#1730f3" stroke-width="3.5"/><circle cx="536.4" cy="462.7" r="11.35" fill="#fff" stroke="#1730f3" stroke-width="3.5"/><circle cx="584.5" cy="498.7" r="11.35" fill="#fff" stroke="#1730f3" stroke-width="3.5"/><circle cx="632.6" cy="516.8" r="11.35" fill="#fff" stroke="#1730f3" stroke-width="3.5"/><circle cx="680.7" cy="480.7" r="11.35" fill="#fff" stroke="#1730f3" stroke-width="3.5"/><circle cx="728.8" cy="498.7" r="11.35" fill="#fff" stroke="#1730f3" stroke-width="3.5"/><circle cx="776.9" cy="498.7" r="11.35" fill="#fff" stroke="#1730f3" stroke-width="3.5"/><circle cx="825.0" cy="534.8" r="11.35" fill="#fff" stroke="#1730f3" stroke-width="3.5"/><circle cx="873.2" cy="480.7" r="11.35" fill="#fff" stroke="#1730f3" stroke-width="3.5"/><circle cx="921.3" cy="462.7" r="11.35" fill="#fff" stroke="#1730f3" stroke-width="3.5"/><circle cx="969.4" cy="498.7" r="11.35" fill="#fff" stroke="#1730f3" stroke-width="3.5"/><circle cx="1017.5" cy="480.7" r="11.35" fill="#fff" stroke="#1730f3" stroke-width="3.5"/><circle cx="1065.6" cy="444.7" r="11.35" fill="#fff" stroke="#1730f3" stroke-width="3.5"/><circle cx="1113.7" cy="462.7" r="11.35" fill="#fff" stroke="#1730f3" stroke-width="3.5"/><circle cx="1161.8" cy="480.7" r="11.35" fill="#fff" stroke="#1730f3" stroke-width="3.5"/><circle cx="1209.9" cy="462.7" r="11.35" fill="#fff" stroke="#1730f3" stroke-width="3.5"/><circle cx="1258.0" cy="444.7" r="11.35" fill="#fff" stroke="#1730f3" stroke-width="3.5"/><circle cx="1306.2" cy="498.7" r="11.35" fill="#fff" stroke="#1730f3" stroke-width="3.5"/><circle cx="1354.3" cy="480.7" r="11.35" fill="#fff" stroke="#1730f3" stroke-width="3.5"/><circle cx="1402.4" cy="480.7" r="11.35" fill="#fff" stroke="#1730f3" stroke-width="3.5"/><circle cx="1450.5" cy="498.7" r="11.35" fill="#fff" stroke="#1730f3" stroke-width="3.5"/><circle cx="1511.2" cy="347.2" r="11.35" fill="#fff" stroke="#1730f3" stroke-width="3.5"/></g>
<g><g><path d="M103.4 426.7V372.7" stroke="#7f2184" stroke-width="3.3" fill="none"/><path d="M92.1 372.7H114.7" stroke="#7f2184" stroke-width="3.3" stroke-linecap="round" fill="none"/><path d="M151.5 372.7V282.6" stroke="#7f2184" stroke-width="3.3" fill="none"/><path d="M140.2 282.6H162.8" stroke="#7f2184" stroke-width="3.3" stroke-linecap="round" fill="none"/><path d="M199.6 336.6V264.6" stroke="#7f2184" stroke-width="3.3" fill="none"/><path d="M188.3 264.6H210.9" stroke="#7f2184" stroke-width="3.3" stroke-linecap="round" fill="none"/><path d="M247.7 300.6V228.6" stroke="#7f2184" stroke-width="3.3" fill="none"/><path d="M236.4 228.6H259.0" stroke="#7f2184" stroke-width="3.3" stroke-linecap="round" fill="none"/><path d="M295.8 156.5V84.5" stroke="#7f2184" stroke-width="3.3" fill="none"/><path d="M284.5 84.5H307.1" stroke="#7f2184" stroke-width="3.3" stroke-linecap="round" fill="none"/><path d="M344.0 174.5V84.5" stroke="#7f2184" stroke-width="3.3" fill="none"/><path d="M332.7 84.5H355.3" stroke="#7f2184" stroke-width="3.3" stroke-linecap="round" fill="none"/><path d="M392.1 210.6V48.4" stroke="#7f2184" stroke-width="3.3" fill="none"/><path d="M380.8 48.4H403.4" stroke="#7f2184" stroke-width="3.3" stroke-linecap="round" fill="none"/><path d="M440.2 336.6V210.6" stroke="#7f2184" stroke-width="3.3" fill="none"/><path d="M428.9 210.6H451.5" stroke="#7f2184" stroke-width="3.3" stroke-linecap="round" fill="none"/><path d="M488.3 354.6V246.6" stroke="#7f2184" stroke-width="3.3" fill="none"/><path d="M477.0 246.6H499.6" stroke="#7f2184" stroke-width="3.3" stroke-linecap="round" fill="none"/><path d="M536.4 408.7V354.6" stroke="#7f2184" stroke-width="3.3" fill="none"/><path d="M525.1 354.6H547.7" stroke="#7f2184" stroke-width="3.3" stroke-linecap="round" fill="none"/><path d="M584.5 462.7V372.7" stroke="#7f2184" stroke-width="3.3" fill="none"/><path d="M573.2 372.7H595.8" stroke="#7f2184" stroke-width="3.3" stroke-linecap="round" fill="none"/><path d="M632.6 498.7V462.7" stroke="#7f2184" stroke-width="3.3" fill="none"/><path d="M621.3 462.7H643.9" stroke="#7f2184" stroke-width="3.3" stroke-linecap="round" fill="none"/><path d="M776.9 498.7V408.7" stroke="#7f2184" stroke-width="3.3" fill="none"/><path d="M765.6 408.7H788.2" stroke="#7f2184" stroke-width="3.3" stroke-linecap="round" fill="none"/><path d="M825.0 498.7V426.7" stroke="#7f2184" stroke-width="3.3" fill="none"/><path d="M813.8 426.7H836.3" stroke="#7f2184" stroke-width="3.3" stroke-linecap="round" fill="none"/><path d="M873.2 480.7V408.7" stroke="#7f2184" stroke-width="3.3" fill="none"/><path d="M861.9 408.7H884.5" stroke="#7f2184" stroke-width="3.3" stroke-linecap="round" fill="none"/><path d="M921.3 462.7V390.7" stroke="#7f2184" stroke-width="3.3" fill="none"/><path d="M910.0 390.7H932.6" stroke="#7f2184" stroke-width="3.3" stroke-linecap="round" fill="none"/><path d="M969.4 498.7V426.7" stroke="#7f2184" stroke-width="3.3" fill="none"/><path d="M958.1 426.7H980.7" stroke="#7f2184" stroke-width="3.3" stroke-linecap="round" fill="none"/><path d="M1065.6 444.7V372.7" stroke="#7f2184" stroke-width="3.3" fill="none"/><path d="M1054.3 372.7H1076.9" stroke="#7f2184" stroke-width="3.3" stroke-linecap="round" fill="none"/><path d="M1113.7 480.7V444.7" stroke="#7f2184" stroke-width="3.3" fill="none"/><path d="M1102.4 444.7H1125.0" stroke="#7f2184" stroke-width="3.3" stroke-linecap="round" fill="none"/><path d="M1161.8 462.7V372.7" stroke="#7f2184" stroke-width="3.3" fill="none"/><path d="M1150.5 372.7H1173.1" stroke="#7f2184" stroke-width="3.3" stroke-linecap="round" fill="none"/><path d="M1209.9 462.7V390.7" stroke="#7f2184" stroke-width="3.3" fill="none"/><path d="M1198.6 390.7H1221.2" stroke="#7f2184" stroke-width="3.3" stroke-linecap="round" fill="none"/><path d="M1450.5 498.7V462.7" stroke="#7f2184" stroke-width="3.3" fill="none"/><path d="M1439.2 462.7H1461.8" stroke="#7f2184" stroke-width="3.3" stroke-linecap="round" fill="none"/><polyline points="103.4,426.7 151.5,372.7 199.6,336.6 247.7,300.6 295.8,156.5 344.0,174.5 392.1,210.6 440.2,336.6 488.3,354.6 536.4,408.7 584.5,462.7 632.6,498.7 680.7,498.7 728.8,516.8 776.9,498.7 825.0,498.7 873.2,480.7 921.3,462.7 969.4,498.7 1017.5,480.7 1065.6,444.7 1113.7,480.7 1161.8,462.7 1209.9,462.7 1258.0,498.7 1306.2,498.7 1354.3,498.7 1402.4,480.7 1450.5,498.7" fill="none" stroke="#7f2184" stroke-width="3.6" stroke-linejoin="round"/><path d="M1493.8 301.3H1528.5" stroke="#7f2184" stroke-width="3.6" stroke-linecap="round" fill="none"/></g><path d="M103.4 415.9L114.6 437.5L92.2 437.5Z" fill="#7f2184"/><path d="M151.5 361.9L162.7 383.5L140.3 383.5Z" fill="#7f2184"/><path d="M199.6 325.8L210.8 347.4L188.4 347.4Z" fill="#7f2184"/><path d="M247.7 289.8L258.9 311.4L236.5 311.4Z" fill="#7f2184"/><path d="M295.8 145.7L307.0 167.3L284.6 167.3Z" fill="#7f2184"/><path d="M344.0 163.7L355.2 185.3L332.8 185.3Z" fill="#7f2184"/><path d="M392.1 199.8L403.3 221.4L380.9 221.4Z" fill="#7f2184"/><path d="M440.2 325.8L451.4 347.4L429.0 347.4Z" fill="#7f2184"/><path d="M488.3 343.8L499.5 365.4L477.1 365.4Z" fill="#7f2184"/><path d="M536.4 397.9L547.6 419.5L525.2 419.5Z" fill="#7f2184"/><path d="M584.5 451.9L595.7 473.5L573.3 473.5Z" fill="#7f2184"/><path d="M632.6 487.9L643.8 509.5L621.4 509.5Z" fill="#7f2184"/><path d="M680.7 487.9L691.9 509.5L669.5 509.5Z" fill="#7f2184"/><path d="M728.8 506.0L740.0 527.6L717.6 527.6Z" fill="#7f2184"/><path d="M776.9 487.9L788.1 509.5L765.7 509.5Z" fill="#7f2184"/><path d="M825.0 487.9L836.2 509.5L813.8 509.5Z" fill="#7f2184"/><path d="M873.2 469.9L884.4 491.5L862.0 491.5Z" fill="#7f2184"/><path d="M921.3 451.9L932.5 473.5L910.1 473.5Z" fill="#7f2184"/><path d="M969.4 487.9L980.6 509.5L958.2 509.5Z" fill="#7f2184"/><path d="M1017.5 469.9L1028.7 491.5L1006.3 491.5Z" fill="#7f2184"/><path d="M1065.6 433.9L1076.8 455.5L1054.4 455.5Z" fill="#7f2184"/><path d="M1113.7 469.9L1124.9 491.5L1102.5 491.5Z" fill="#7f2184"/><path d="M1161.8 451.9L1173.0 473.5L1150.6 473.5Z" fill="#7f2184"/><path d="M1209.9 451.9L1221.1 473.5L1198.7 473.5Z" fill="#7f2184"/><path d="M1258.0 487.9L1269.2 509.5L1246.8 509.5Z" fill="#7f2184"/><path d="M1306.2 487.9L1317.4 509.5L1295.0 509.5Z" fill="#7f2184"/><path d="M1354.3 487.9L1365.5 509.5L1343.1 509.5Z" fill="#7f2184"/><path d="M1402.4 469.9L1413.6 491.5L1391.2 491.5Z" fill="#7f2184"/><path d="M1450.5 487.9L1461.7 509.5L1439.3 509.5Z" fill="#7f2184"/><path d="M1511.2 290.0L1522.4 312.6L1500.0 312.6Z" fill="#7f2184"/></g>
<g><g><path d="M103.4 570.8V525.8" stroke="#ee8127" stroke-width="3.3" fill="none"/><path d="M92.1 525.8H114.7" stroke="#ee8127" stroke-width="3.3" stroke-linecap="round" fill="none"/><path d="M151.5 516.8V390.7" stroke="#ee8127" stroke-width="3.3" fill="none"/><path d="M140.2 390.7H162.8" stroke="#ee8127" stroke-width="3.3" stroke-linecap="round" fill="none"/><path d="M199.6 552.8V426.7" stroke="#ee8127" stroke-width="3.3" fill="none"/><path d="M188.3 426.7H210.9" stroke="#ee8127" stroke-width="3.3" stroke-linecap="round" fill="none"/><path d="M247.7 498.7V421.3" stroke="#ee8127" stroke-width="3.3" fill="none"/><path d="M236.4 421.3H259.0" stroke="#ee8127" stroke-width="3.3" stroke-linecap="round" fill="none"/><path d="M295.8 480.7V381.7" stroke="#ee8127" stroke-width="3.3" fill="none"/><path d="M284.5 381.7H307.1" stroke="#ee8127" stroke-width="3.3" stroke-linecap="round" fill="none"/><path d="M344.0 552.8V432.1" stroke="#ee8127" stroke-width="3.3" fill="none"/><path d="M332.7 432.1H355.3" stroke="#ee8127" stroke-width="3.3" stroke-linecap="round" fill="none"/><path d="M392.1 570.8V457.3" stroke="#ee8127" stroke-width="3.3" fill="none"/><path d="M380.8 457.3H403.4" stroke="#ee8127" stroke-width="3.3" stroke-linecap="round" fill="none"/><path d="M440.2 588.8V495.1" stroke="#ee8127" stroke-width="3.3" fill="none"/><path d="M428.9 495.1H451.5" stroke="#ee8127" stroke-width="3.3" stroke-linecap="round" fill="none"/><path d="M488.3 552.8V454.6" stroke="#ee8127" stroke-width="3.3" fill="none"/><path d="M477.0 454.6H499.6" stroke="#ee8127" stroke-width="3.3" stroke-linecap="round" fill="none"/><path d="M536.4 552.8V477.1" stroke="#ee8127" stroke-width="3.3" fill="none"/><path d="M525.1 477.1H547.7" stroke="#ee8127" stroke-width="3.3" stroke-linecap="round" fill="none"/><path d="M584.5 516.8V457.3" stroke="#ee8127" stroke-width="3.3" fill="none"/><path d="M573.2 457.3H595.8" stroke="#ee8127" stroke-width="3.3" stroke-linecap="round" fill="none"/><path d="M632.6 516.8V480.7" stroke="#ee8127" stroke-width="3.3" fill="none"/><path d="M621.3 480.7H643.9" stroke="#ee8127" stroke-width="3.3" stroke-linecap="round" fill="none"/><path d="M680.7 498.7V444.7" stroke="#ee8127" stroke-width="3.3" fill="none"/><path d="M669.4 444.7H692.0" stroke="#ee8127" stroke-width="3.3" stroke-linecap="round" fill="none"/><path d="M921.3 462.7V426.7" stroke="#ee8127" stroke-width="3.3" fill="none"/><path d="M910.0 426.7H932.6" stroke="#ee8127" stroke-width="3.3" stroke-linecap="round" fill="none"/><path d="M1065.6 516.8V480.7" stroke="#ee8127" stroke-width="3.3" fill="none"/><path d="M1054.3 480.7H1076.9" stroke="#ee8127" stroke-width="3.3" stroke-linecap="round" fill="none"/><path d="M1161.8 516.8V480.7" stroke="#ee8127" stroke-width="3.3" fill="none"/><path d="M1150.5 480.7H1173.1" stroke="#ee8127" stroke-width="3.3" stroke-linecap="round" fill="none"/><path d="M1209.9 534.8V462.7" stroke="#ee8127" stroke-width="3.3" fill="none"/><path d="M1198.6 462.7H1221.2" stroke="#ee8127" stroke-width="3.3" stroke-linecap="round" fill="none"/><path d="M1258.0 498.7V444.7" stroke="#ee8127" stroke-width="3.3" fill="none"/><path d="M1246.7 444.7H1269.3" stroke="#ee8127" stroke-width="3.3" stroke-linecap="round" fill="none"/><path d="M1354.3 498.7V462.7" stroke="#ee8127" stroke-width="3.3" fill="none"/><path d="M1343.0 462.7H1365.6" stroke="#ee8127" stroke-width="3.3" stroke-linecap="round" fill="none"/><path d="M1450.5 462.7V426.7" stroke="#ee8127" stroke-width="3.3" fill="none"/><path d="M1439.2 426.7H1461.8" stroke="#ee8127" stroke-width="3.3" stroke-linecap="round" fill="none"/><polyline points="103.4,570.8 151.5,516.8 199.6,552.8 247.7,498.7 295.8,480.7 344.0,552.8 392.1,570.8 440.2,588.8 488.3,552.8 536.4,552.8 584.5,516.8 632.6,516.8 680.7,498.7 728.8,516.8 776.9,516.8 825.0,498.7 873.2,498.7 921.3,462.7 969.4,516.8 1017.5,480.7 1065.6,516.8 1113.7,498.7 1161.8,516.8 1209.9,534.8 1258.0,498.7 1306.2,516.8 1354.3,498.7 1402.4,480.7 1450.5,462.7" fill="none" stroke="#ee8127" stroke-width="3.6" stroke-linejoin="round"/><path d="M1493.8 257.2H1528.5" stroke="#ee8127" stroke-width="3.6" stroke-linecap="round" fill="none"/></g><rect x="92.0" y="559.4" width="22.8" height="22.8" fill="#ee8127"/><rect x="140.1" y="505.4" width="22.8" height="22.8" fill="#ee8127"/><rect x="188.2" y="541.4" width="22.8" height="22.8" fill="#ee8127"/><rect x="236.3" y="487.3" width="22.8" height="22.8" fill="#ee8127"/><rect x="284.4" y="469.3" width="22.8" height="22.8" fill="#ee8127"/><rect x="332.6" y="541.4" width="22.8" height="22.8" fill="#ee8127"/><rect x="380.7" y="559.4" width="22.8" height="22.8" fill="#ee8127"/><rect x="428.8" y="577.4" width="22.8" height="22.8" fill="#ee8127"/><rect x="476.9" y="541.4" width="22.8" height="22.8" fill="#ee8127"/><rect x="525.0" y="541.4" width="22.8" height="22.8" fill="#ee8127"/><rect x="573.1" y="505.4" width="22.8" height="22.8" fill="#ee8127"/><rect x="621.2" y="505.4" width="22.8" height="22.8" fill="#ee8127"/><rect x="669.3" y="487.3" width="22.8" height="22.8" fill="#ee8127"/><rect x="717.4" y="505.4" width="22.8" height="22.8" fill="#ee8127"/><rect x="765.5" y="505.4" width="22.8" height="22.8" fill="#ee8127"/><rect x="813.6" y="487.3" width="22.8" height="22.8" fill="#ee8127"/><rect x="861.8" y="487.3" width="22.8" height="22.8" fill="#ee8127"/><rect x="909.9" y="451.3" width="22.8" height="22.8" fill="#ee8127"/><rect x="958.0" y="505.4" width="22.8" height="22.8" fill="#ee8127"/><rect x="1006.1" y="469.3" width="22.8" height="22.8" fill="#ee8127"/><rect x="1054.2" y="505.4" width="22.8" height="22.8" fill="#ee8127"/><rect x="1102.3" y="487.3" width="22.8" height="22.8" fill="#ee8127"/><rect x="1150.4" y="505.4" width="22.8" height="22.8" fill="#ee8127"/><rect x="1198.5" y="523.4" width="22.8" height="22.8" fill="#ee8127"/><rect x="1246.6" y="487.3" width="22.8" height="22.8" fill="#ee8127"/><rect x="1294.8" y="505.4" width="22.8" height="22.8" fill="#ee8127"/><rect x="1342.9" y="487.3" width="22.8" height="22.8" fill="#ee8127"/><rect x="1391.0" y="469.3" width="22.8" height="22.8" fill="#ee8127"/><rect x="1439.1" y="451.3" width="22.8" height="22.8" fill="#ee8127"/><rect x="1499.8" y="245.8" width="22.8" height="22.8" fill="#ee8127"/></g>
<g><g><path d="M103.4 498.7V361.9" stroke="#1730f3" stroke-width="3.3" fill="none"/><path d="M92.1 361.9H114.7" stroke="#1730f3" stroke-width="3.3" stroke-linecap="round" fill="none"/><path d="M151.5 408.7V331.2" stroke="#1730f3" stroke-width="3.3" fill="none"/><path d="M140.2 331.2H162.8" stroke="#1730f3" stroke-width="3.3" stroke-linecap="round" fill="none"/><path d="M199.6 426.7V347.4" stroke="#1730f3" stroke-width="3.3" fill="none"/><path d="M188.3 347.4H210.9" stroke="#1730f3" stroke-width="3.3" stroke-linecap="round" fill="none"/><path d="M247.7 462.7V406.9" stroke="#1730f3" stroke-width="3.3" fill="none"/><path d="M236.4 406.9H259.0" stroke="#1730f3" stroke-width="3.3" stroke-linecap="round" fill="none"/><path d="M295.8 498.7V441.6" stroke="#1730f3" stroke-width="3.3" fill="none"/><path d="M284.5 441.6H307.1" stroke="#1730f3" stroke-width="3.3" stroke-linecap="round" fill="none"/><path d="M344.0 480.7V309.6" stroke="#1730f3" stroke-width="3.3" fill="none"/><path d="M332.7 309.6H355.3" stroke="#1730f3" stroke-width="3.3" stroke-linecap="round" fill="none"/><path d="M392.1 498.7V402.2" stroke="#1730f3" stroke-width="3.3" fill="none"/><path d="M380.8 402.2H403.4" stroke="#1730f3" stroke-width="3.3" stroke-linecap="round" fill="none"/><path d="M440.2 462.7V387.1" stroke="#1730f3" stroke-width="3.3" fill="none"/><path d="M428.9 387.1H451.5" stroke="#1730f3" stroke-width="3.3" stroke-linecap="round" fill="none"/><path d="M488.3 516.8V471.7" stroke="#1730f3" stroke-width="3.3" fill="none"/><path d="M477.0 471.7H499.6" stroke="#1730f3" stroke-width="3.3" stroke-linecap="round" fill="none"/><path d="M536.4 516.8V443.8" stroke="#1730f3" stroke-width="3.3" fill="none"/><path d="M525.1 443.8H547.7" stroke="#1730f3" stroke-width="3.3" stroke-linecap="round" fill="none"/><path d="M584.5 498.7V399.7" stroke="#1730f3" stroke-width="3.3" fill="none"/><path d="M573.2 399.7H595.8" stroke="#1730f3" stroke-width="3.3" stroke-linecap="round" fill="none"/><path d="M632.6 552.8V516.8" stroke="#1730f3" stroke-width="3.3" fill="none"/><path d="M621.3 516.8H643.9" stroke="#1730f3" stroke-width="3.3" stroke-linecap="round" fill="none"/><path d="M680.7 534.8V480.7" stroke="#1730f3" stroke-width="3.3" fill="none"/><path d="M669.4 480.7H692.0" stroke="#1730f3" stroke-width="3.3" stroke-linecap="round" fill="none"/><path d="M728.8 516.8V462.7" stroke="#1730f3" stroke-width="3.3" fill="none"/><path d="M717.5 462.7H740.1" stroke="#1730f3" stroke-width="3.3" stroke-linecap="round" fill="none"/><path d="M776.9 480.7V390.7" stroke="#1730f3" stroke-width="3.3" fill="none"/><path d="M765.6 390.7H788.2" stroke="#1730f3" stroke-width="3.3" stroke-linecap="round" fill="none"/><path d="M825.0 480.7V408.7" stroke="#1730f3" stroke-width="3.3" fill="none"/><path d="M813.8 408.7H836.3" stroke="#1730f3" stroke-width="3.3" stroke-linecap="round" fill="none"/><path d="M873.2 498.7V462.7" stroke="#1730f3" stroke-width="3.3" fill="none"/><path d="M861.9 462.7H884.5" stroke="#1730f3" stroke-width="3.3" stroke-linecap="round" fill="none"/><path d="M921.3 552.8V516.8" stroke="#1730f3" stroke-width="3.3" fill="none"/><path d="M910.0 516.8H932.6" stroke="#1730f3" stroke-width="3.3" stroke-linecap="round" fill="none"/><path d="M1017.5 480.7V426.7" stroke="#1730f3" stroke-width="3.3" fill="none"/><path d="M1006.2 426.7H1028.8" stroke="#1730f3" stroke-width="3.3" stroke-linecap="round" fill="none"/><path d="M1065.6 516.8V444.7" stroke="#1730f3" stroke-width="3.3" fill="none"/><path d="M1054.3 444.7H1076.9" stroke="#1730f3" stroke-width="3.3" stroke-linecap="round" fill="none"/><path d="M1113.7 498.7V462.7" stroke="#1730f3" stroke-width="3.3" fill="none"/><path d="M1102.4 462.7H1125.0" stroke="#1730f3" stroke-width="3.3" stroke-linecap="round" fill="none"/><path d="M1161.8 480.7V426.7" stroke="#1730f3" stroke-width="3.3" fill="none"/><path d="M1150.5 426.7H1173.1" stroke="#1730f3" stroke-width="3.3" stroke-linecap="round" fill="none"/><path d="M1209.9 480.7V426.7" stroke="#1730f3" stroke-width="3.3" fill="none"/><path d="M1198.6 426.7H1221.2" stroke="#1730f3" stroke-width="3.3" stroke-linecap="round" fill="none"/><path d="M1258.0 516.8V462.7" stroke="#1730f3" stroke-width="3.3" fill="none"/><path d="M1246.7 462.7H1269.3" stroke="#1730f3" stroke-width="3.3" stroke-linecap="round" fill="none"/><path d="M1354.3 462.7V426.7" stroke="#1730f3" stroke-width="3.3" fill="none"/><path d="M1343.0 426.7H1365.6" stroke="#1730f3" stroke-width="3.3" stroke-linecap="round" fill="none"/><path d="M1402.4 480.7V444.7" stroke="#1730f3" stroke-width="3.3" fill="none"/><path d="M1391.1 444.7H1413.7" stroke="#1730f3" stroke-width="3.3" stroke-linecap="round" fill="none"/><path d="M1450.5 480.7V444.7" stroke="#1730f3" stroke-width="3.3" fill="none"/><path d="M1439.2 444.7H1461.8" stroke="#1730f3" stroke-width="3.3" stroke-linecap="round" fill="none"/><polyline points="103.4,498.7 151.5,408.7 199.6,426.7 247.7,462.7 295.8,498.7 344.0,480.7 392.1,498.7 440.2,462.7 488.3,516.8 536.4,516.8 584.5,498.7 632.6,552.8 680.7,534.8 728.8,516.8 776.9,480.7 825.0,480.7 873.2,498.7 921.3,552.8 969.4,516.8 1017.5,480.7 1065.6,516.8 1113.7,498.7 1161.8,480.7 1209.9,480.7 1258.0,516.8 1306.2,516.8 1354.3,462.7 1402.4,480.7 1450.5,480.7" fill="none" stroke="#1730f3" stroke-width="3.6" stroke-linejoin="round"/><path d="M1493.8 211.1H1528.5" stroke="#1730f3" stroke-width="3.6" stroke-linecap="round" fill="none"/></g><circle cx="103.4" cy="498.7" r="11.35" fill="#1730f3"/><circle cx="151.5" cy="408.7" r="11.35" fill="#1730f3"/><circle cx="199.6" cy="426.7" r="11.35" fill="#1730f3"/><circle cx="247.7" cy="462.7" r="11.35" fill="#1730f3"/><circle cx="295.8" cy="498.7" r="11.35" fill="#1730f3"/><circle cx="344.0" cy="480.7" r="11.35" fill="#1730f3"/><circle cx="392.1" cy="498.7" r="11.35" fill="#1730f3"/><circle cx="440.2" cy="462.7" r="11.35" fill="#1730f3"/><circle cx="488.3" cy="516.8" r="11.35" fill="#1730f3"/><circle cx="536.4" cy="516.8" r="11.35" fill="#1730f3"/><circle cx="584.5" cy="498.7" r="11.35" fill="#1730f3"/><circle cx="632.6" cy="552.8" r="11.35" fill="#1730f3"/><circle cx="680.7" cy="534.8" r="11.35" fill="#1730f3"/><circle cx="728.8" cy="516.8" r="11.35" fill="#1730f3"/><circle cx="776.9" cy="480.7" r="11.35" fill="#1730f3"/><circle cx="825.0" cy="480.7" r="11.35" fill="#1730f3"/><circle cx="873.2" cy="498.7" r="11.35" fill="#1730f3"/><circle cx="921.3" cy="552.8" r="11.35" fill="#1730f3"/><circle cx="969.4" cy="516.8" r="11.35" fill="#1730f3"/><circle cx="1017.5" cy="480.7" r="11.35" fill="#1730f3"/><circle cx="1065.6" cy="516.8" r="11.35" fill="#1730f3"/><circle cx="1113.7" cy="498.7" r="11.35" fill="#1730f3"/><circle cx="1161.8" cy="480.7" r="11.35" fill="#1730f3"/><circle cx="1209.9" cy="480.7" r="11.35" fill="#1730f3"/><circle cx="1258.0" cy="516.8" r="11.35" fill="#1730f3"/><circle cx="1306.2" cy="516.8" r="11.35" fill="#1730f3"/><circle cx="1354.3" cy="462.7" r="11.35" fill="#1730f3"/><circle cx="1402.4" cy="480.7" r="11.35" fill="#1730f3"/><circle cx="1450.5" cy="480.7" r="11.35" fill="#1730f3"/><circle cx="1511.2" cy="211.1" r="11.35" fill="#1730f3"/></g>
<text class="b" x="88.6" y="741.2" text-anchor="end">38</text>
<text class="b" x="88.6" y="561.1" text-anchor="end">39</text>
<text class="b" x="88.6" y="381.0" text-anchor="end">40</text>
<text class="b" x="88.6" y="200.8" text-anchor="end">41</text>
<text class="b" x="88.6" y="20.7" text-anchor="end">42</text>
<text class="b" x="103.4" y="772.1" text-anchor="middle">0</text>
<text class="b" x="151.5" y="772.1" text-anchor="middle">1</text>
<text class="b" x="199.6" y="772.1" text-anchor="middle">2</text>
<text class="b" x="247.7" y="772.1" text-anchor="middle">3</text>
<text class="b" x="295.8" y="772.1" text-anchor="middle">4</text>
<text class="b" x="344.0" y="772.1" text-anchor="middle">5</text>
<text class="b" x="392.1" y="772.1" text-anchor="middle">6</text>
<text class="b" x="440.2" y="772.1" text-anchor="middle">7</text>
<text class="b" x="488.3" y="772.1" text-anchor="middle">8</text>
<text class="b" x="536.4" y="772.1" text-anchor="middle">9</text>
<text class="b" x="584.5" y="772.1" text-anchor="middle">10</text>
<text class="b" x="632.6" y="772.1" text-anchor="middle">11</text>
<text class="b" x="680.7" y="772.1" text-anchor="middle">12</text>
<text class="b" x="728.8" y="772.1" text-anchor="middle">13</text>
<text class="b" x="776.9" y="772.1" text-anchor="middle">14</text>
<text class="b" x="825.0" y="772.1" text-anchor="middle">15</text>
<text class="b" x="873.2" y="772.1" text-anchor="middle">16</text>
<text class="b" x="921.3" y="772.1" text-anchor="middle">17</text>
<text class="b" x="969.4" y="772.1" text-anchor="middle">18</text>
<text class="b" x="1017.5" y="772.1" text-anchor="middle">19</text>
<text class="b" x="1065.6" y="772.1" text-anchor="middle">20</text>
<text class="b" x="1113.7" y="772.1" text-anchor="middle">21</text>
<text class="b" x="1161.8" y="772.1" text-anchor="middle">22</text>
<text class="b" x="1209.9" y="772.1" text-anchor="middle">23</text>
<text class="b" x="1258.0" y="772.1" text-anchor="middle">24</text>
<text class="b" x="1306.2" y="772.1" text-anchor="middle">25</text>
<text class="b" x="1354.3" y="772.1" text-anchor="middle">26</text>
<text class="b" x="1402.4" y="772.1" text-anchor="middle">27</text>
<text class="b" x="1450.5" y="772.1" text-anchor="middle">28</text>
<text class="b" style="font-size:26.3px" x="777.2" y="23.3" text-anchor="middle">Rectal temperature post challenge</text>
<text class="b" style="font-size:26.4px" x="777.2" y="823.6" text-anchor="middle">Days post-challenge (DPC)</text>
<text class="b" transform="translate(22.5 534.2) rotate(-90)">Mean rectal temperature (°C)</text>
<text class="i" x="309.0" y="87.5">a</text>
<text class="i" x="309.0" y="148.5">a</text>
<text class="i" x="309.0" y="316.0">b</text>
<text class="i" x="309.0" y="417.0">b</text>
<text class="i" x="309.0" y="442.0">b</text>
<text class="i" x="309.0" y="461.0">b</text>
<text class="i" x="309.0" y="480.0">b</text>
<text class="i" x="309.0" y="499.0">b</text>
<text class="i" x="357.2" y="141.0">a</text>
<text class="i" x="357.2" y="176.0">a</text>
<text class="i" x="357.2" y="287.3">b</text>
<text class="i" x="357.2" y="429.0">b</text>
<text class="i" x="357.2" y="471.6">b</text>
<text class="i" x="357.2" y="489.6">b</text>
<text class="i" x="357.2" y="511.2">b</text>
<text class="i" x="357.2" y="544.8">b</text>
<text class="i" x="405.3" y="120.3">a</text>
<text class="i" x="405.3" y="199.5">a</text>
<text class="i" x="405.3" y="288.5">a</text>
<text class="i" x="405.3" y="434.0">b</text>
<text class="i" x="405.3" y="458.4">b</text>
<text class="i" x="405.3" y="492.0">b</text>
<text class="i" x="405.3" y="555.7">c</text>
<text class="i" x="405.3" y="571.3">c</text>
<text class="i" x="453.4" y="276.0">a</text>
<text class="i" x="453.4" y="332.0">a</text>
<text class="i" x="453.4" y="388.8">a</text>
<text class="i" x="453.4" y="417.1">a</text>
<text class="i" x="453.4" y="450.5">a</text>
<text class="i" x="453.4" y="471.6">a</text>
<text class="i" x="453.4" y="570.0">b</text>
<text class="i" x="453.4" y="584.5">b</text>
<text class="b" x="1548.5" y="219.9">IMPP0/PCVMH7</text>
<text class="b" x="1548.5" y="266.0">IDPP0/PCVMH7</text>
<text class="b" x="1548.5" y="310.1">IMING0/PCVMH7</text>
<text class="b" x="1548.5" y="356.0">IMPP0/PCVMH0</text>
<text class="b" x="1548.5" y="399.8">IDPP0/PCVMH0</text>
<text class="b" x="1548.5" y="444.2">IMTRF0</text>
<text class="b" x="1548.5" y="490.0">NV/CH</text>
<text class="b" x="1548.5" y="535.8">NV/NC</text>
</svg></body></html>
